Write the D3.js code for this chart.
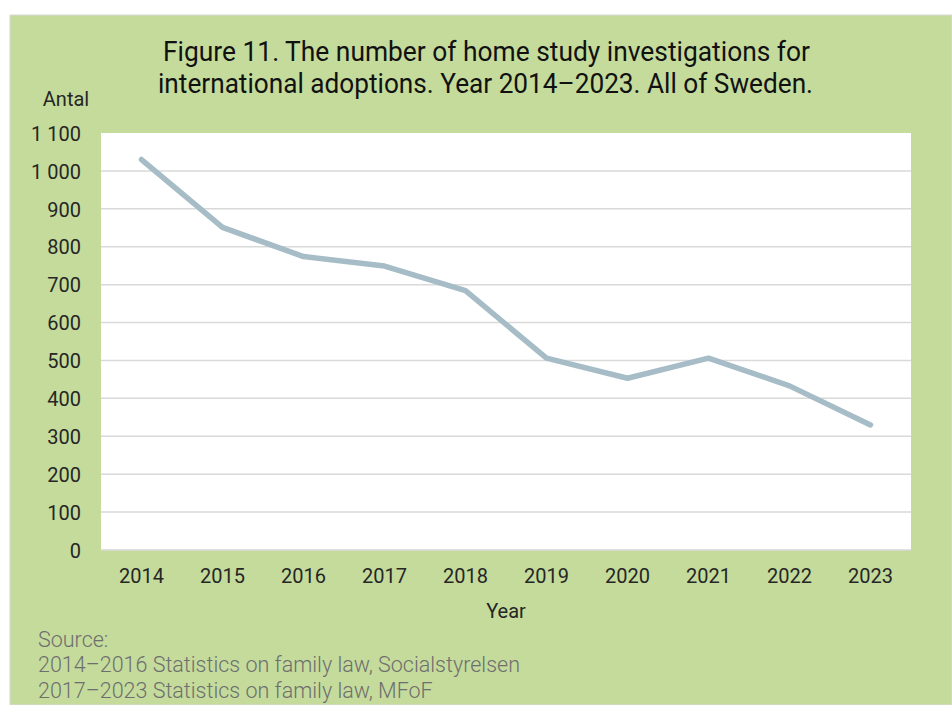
<!DOCTYPE html>
<html>
<head>
<meta charset="utf-8">
<script src="https://cdn.jsdelivr.net/npm/d3@7"></script>
<style>
  html, body { margin: 0; padding: 0; background: #ffffff; }
  svg { display: block; }
</style>
</head>
<body>
<svg id="chart" width="952" height="705"></svg>
<script>
const years = ["2014","2015","2016","2017","2018","2019","2020","2021","2022","2023"];
const values = [1030, 851, 774, 749, 684, 506, 453, 506, 433, 330];
const yTicks = [0,100,200,300,400,500,600,700,800,900,1000,1100];
const titleLines = [
  "Figure 11. The number of home study investigations for",
  "international adoptions. Year 2014\u20132023. All of Sweden."
];
const sourceLines = [
  "Source:",
  "2014\u20132016 Statistics on family law, Socialstyrelsen",
  "2017\u20132023 Statistics on family law, MFoF"
];

const svg = d3.select("#chart");
const W = 952, H = 705;
const plot = {left: 101, right: 911, top: 133, bottom: 550};

// panel
svg.append("rect").attr("x", 10).attr("y", 15).attr("width", W - 10).attr("height", H - 15)
  .attr("fill", "#c4db9c").attr("stroke", "#d8d8d8").attr("stroke-width", 1);

// plot area
svg.append("rect").attr("x", plot.left).attr("y", plot.top)
  .attr("width", plot.right - plot.left).attr("height", plot.bottom - plot.top)
  .attr("fill", "#ffffff");

const x = d3.scaleBand().domain(years).range([plot.left, plot.right]).padding(0);
const y = d3.scaleLinear().domain([0, 1100]).range([plot.bottom, plot.top]);

const locale = d3.formatLocale({decimal: ",", thousands: "\u2009", grouping: [3], currency: ["", ""]});
const fmt = v => locale.format(",")(v).replace("\u2009", " ");

// gridlines
svg.append("g").selectAll("line").data(yTicks.filter(d => d < 1100)).join("line")
  .attr("x1", plot.left).attr("x2", plot.right)
  .attr("y1", d => y(d)).attr("y2", d => y(d))
  .attr("stroke", "#d9d9d9").attr("stroke-width", 1.5);

// y axis labels
const yAxis = d3.axisLeft(y).tickValues(yTicks).tickSize(0).tickPadding(0).tickFormat(fmt);
const gy = svg.append("g").attr("transform", `translate(${plot.left - 20},0)`).call(yAxis);
gy.select(".domain").remove();
gy.selectAll("text")
  .attr("font-family", "Roboto, sans-serif").attr("font-size", 20)
  .attr("fill", "#262626").attr("dy", "0.36em").attr("x", 0);

// x axis labels
const xAxis = d3.axisBottom(x).tickSize(0).tickPadding(0);
const gx = svg.append("g").attr("transform", `translate(0,${plot.bottom})`).call(xAxis);
gx.select(".domain").remove();
gx.selectAll("text")
  .attr("font-family", "Roboto, sans-serif").attr("font-size", 20)
  .attr("fill", "#262626").attr("dy", null).attr("y", 33);

// line
const line = d3.line().x((d, i) => x(years[i]) + x.bandwidth() / 2).y(d => y(d));
svg.append("path").datum(values).attr("d", line)
  .attr("fill", "none").attr("stroke", "#a6bcc6").attr("stroke-width", 5.5)
  .attr("stroke-linecap", "round").attr("stroke-linejoin", "round");

// title (condensed look: larger glyphs compressed to the measured width)
const titleY = [61, 93];
const titleX = [[163, 810], [158, 813]];
titleLines.forEach((t, i) => {
  svg.append("text")
    .attr("transform", `translate(${titleX[i][0]},${titleY[i]}) scale(1,0.93)`)
    .attr("x", 0).attr("y", 0)
    .attr("textLength", titleX[i][1] - titleX[i][0]).attr("lengthAdjust", "spacingAndGlyphs")
    .attr("font-family", "Roboto, sans-serif").attr("font-size", 29)
    .attr("fill", "#111111").text(t);
});

// axis titles
svg.append("text").attr("x", 66).attr("y", 106).attr("text-anchor", "middle")
  .attr("font-family", "Roboto, sans-serif").attr("font-size", 20).attr("fill", "#262626").text("Antal");
svg.append("text").attr("x", (plot.left + plot.right) / 2).attr("y", 618).attr("text-anchor", "middle")
  .attr("font-family", "Roboto, sans-serif").attr("font-size", 20).attr("fill", "#262626").text("Year");

// source
const srcY = [647, 672, 698];
sourceLines.forEach((t, i) => {
  svg.append("text").attr("x", 38).attr("y", srcY[i])
    .attr("font-family", "Roboto, sans-serif").attr("font-weight", 300).attr("font-size", 21.5)
    .attr("fill", "#6e6e6e").text(t);
});
</script>
</body>
</html>
